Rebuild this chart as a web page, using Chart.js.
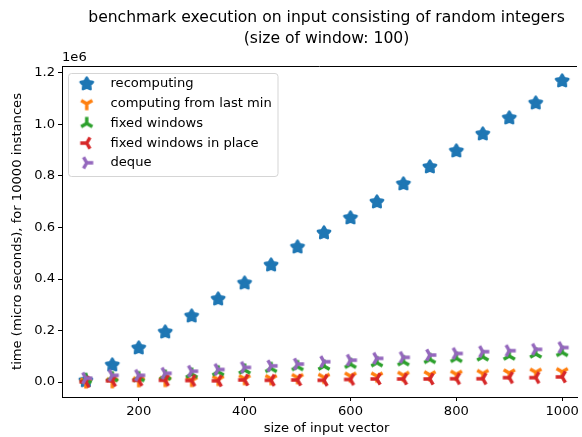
<!DOCTYPE html>
<html>
<head>
<meta charset="utf-8">
<script src="https://cdn.jsdelivr.net/npm/chart.js@4/dist/chart.umd.min.js"></script>
<style>
  html, body { margin: 0; padding: 0; background: #fff; overflow: hidden; }
  #wrap { width: 582px; height: 437px; }
</style>
</head>
<body>
<div id="wrap"><canvas id="chart" width="582" height="437"></canvas></div>
<script>
// input sizes
var sizes = [100, 150, 200, 250, 300, 350, 400, 450, 500, 550, 600, 650, 700, 750, 800, 850, 900, 950, 1000];

// times (micro seconds), for 10000 instances
var recomputing = [5000, 66000, 132000, 194000, 256000, 322000, 384000, 454000, 524000, 579000, 637000, 699000, 769000, 835000, 897000, 963000, 1025000, 1083000, 1169000];
var fromLastMin = [0, 1000, 5000, 6000, 6000, 10000, 13000, 13000, 17000, 18000, 23000, 23000, 26000, 28000, 30000, 33000, 35000, 38000, 40000];
var fixedWindows = [10000, 17000, 17000, 23000, 31000, 40000, 47000, 53000, 60000, 62000, 69000, 75000, 79000, 88000, 92000, 98000, 101000, 109000, 115000];
var fixedInPlace = [1000, 5000, 7000, 7000, 6000, 5000, 8000, 7000, 8000, 7000, 10000, 12000, 12000, 12000, 13000, 13000, 17000, 17000, 20000];
var deque = [15000, 26000, 26000, 34000, 42000, 49000, 57000, 63000, 70000, 79000, 85000, 92000, 96000, 105000, 111000, 118000, 122000, 127000, 134000];

var seriesNames = ["recomputing", "computing from last min", "fixed windows", "fixed windows in place", "deque"];
var xTicks = [200, 400, 600, 800, 1000];
var yTicks = [0, 200000, 400000, 600000, 800000, 1000000, 1200000];

var FONT = "'DejaVu Sans', sans-serif";
var FS = 13.1;

// marker images, like matplotlib '*', '1', '2', '3', '4'
function makeMarker(kind, color) {
  var c = document.createElement("canvas");
  c.width = 20; c.height = 20;
  var g = c.getContext("2d");
  g.translate(10, 10);
  g.strokeStyle = color;
  g.fillStyle = color;
  if (kind === "star") {
    var R = 6.4, r = 3.5;
    g.beginPath();
    for (var i = 0; i < 10; i++) {
      var a = -Math.PI / 2 + i * Math.PI / 5;
      var rr = i % 2 === 0 ? R : r;
      var px = rr * Math.cos(a), py = rr * Math.sin(a);
      if (i === 0) g.moveTo(px, py); else g.lineTo(px, py);
    }
    g.closePath();
    g.fill();
    g.lineWidth = 2.6;
    g.lineJoin = "round";
    g.stroke();
    return c;
  }
  // tri markers: angle of the single arm
  var base = { down: 90, up: -90, left: 180, right: 0 }[kind];
  var L = 6.5;
  g.lineWidth = 3.4;
  g.lineCap = "butt";
  g.beginPath();
  [0, 120, 240].forEach(function (d) {
    var a = (base + d) * Math.PI / 180;
    g.moveTo(0, 0);
    g.lineTo(L * Math.cos(a), L * Math.sin(a));
  });
  g.stroke();
  return c;
}

var colors = ["#1f77b4", "#ff7f0e", "#2ca02c", "#d62728", "#9467bd"];
var kinds = ["star", "down", "up", "left", "right"];
var values = [recomputing, fromLastMin, fixedWindows, fixedInPlace, deque];
var markers = kinds.map(function (k, i) { return makeMarker(k, colors[i]); });

var datasets = values.map(function (vals, i) {
  return {
    label: seriesNames[i],
    data: sizes.map(function (s, j) { return { x: s, y: vals[j] }; }),
    pointStyle: markers[i],
    showLine: false,
    borderColor: colors[i],
    backgroundColor: colors[i],
    order: 4 - i,
    clip: false
  };
});

var decorations = {
  id: "decorations",
  afterDraw: function (chart) {
    var ctx = chart.ctx;
    var area = chart.chartArea;
    ctx.save();
    // top spine
    ctx.strokeStyle = "#000";
    ctx.lineWidth = 1;
    ctx.beginPath();
    ctx.moveTo(area.left, area.top + 0.5);
    ctx.lineTo(area.right, area.top + 0.5);
    ctx.stroke();

    ctx.fillStyle = "#000";
    ctx.textAlign = "center";
    ctx.textBaseline = "middle";
    ctx.font = "15.6px " + FONT;
    ctx.fillText("benchmark execution on input consisting of random integers", 326.5, 18);
    ctx.fillText("(size of window: 100)", 326.5, 39);

    ctx.font = FS + "px " + FONT;
    ctx.textAlign = "left";
    ctx.fillText("1e6", 62, 58);

    ctx.textAlign = "center";
    ctx.fillText("size of input vector", 326.5, 429);

    ctx.save();
    ctx.translate(18, (area.top + area.bottom) / 2);
    ctx.rotate(-Math.PI / 2);
    ctx.fillText("time (micro seconds), for 10000 instances", 0, 0);
    ctx.restore();

    // legend box
    var bx = 68.5, by = 73.5, bw = 209.5, bh = 103;
    ctx.fillStyle = "rgba(255,255,255,0.8)";
    ctx.strokeStyle = "#d5d5d5";
    ctx.beginPath();
    ctx.roundRect(bx, by, bw, bh, 3);
    ctx.fill();
    ctx.stroke();
    ctx.fillStyle = "#000";
    ctx.textAlign = "left";
    chart.data.datasets.forEach(function (ds, i) {
      var yy = 84 + i * 19.7;
      ctx.drawImage(ds.pointStyle, 86.7 - 10, yy - 10);
      ctx.fillText(ds.label, 110.5, yy);
    });
    ctx.restore();
  }
};

new Chart(document.getElementById("chart"), {
  type: "scatter",
  data: { datasets: datasets },
  options: {
    responsive: false,
    animation: false,
    events: [],
    layout: { padding: { top: 66, left: 0, right: 0, bottom: 0 } },
    plugins: { legend: { display: false }, title: { display: false }, tooltip: { enabled: false } },
    scales: {
      x: {
        type: "linear",
        min: 55,
        max: 1028,
        afterBuildTicks: function (s) { s.ticks = xTicks.map(function (v) { return { value: v }; }); },
        afterFit: function (s) { s.height = 40; },
        grid: { drawOnChartArea: false, drawTicks: true, tickLength: 4, color: "#000" },
        border: { display: true, color: "#000", width: 1 },
        ticks: { color: "#000", padding: 3, maxRotation: 0, font: { family: FONT, size: FS },
          callback: function (v) { return String(v); } }
      },
      y: {
        type: "linear",
        min: -58000,
        max: 1227000,
        afterBuildTicks: function (s) { s.ticks = yTicks.map(function (v) { return { value: v }; }); },
        afterFit: function (s) { s.width = 62; },
        grid: { drawOnChartArea: false, drawTicks: true, tickLength: 4, color: "#000" },
        border: { display: true, color: "#000", width: 1 },
        ticks: { color: "#000", padding: 3, font: { family: FONT, size: FS },
          callback: function (v) { return (v / 1e6).toFixed(1); } }
      }
    }
  },
  plugins: [decorations]
});
</script>
</body>
</html>
